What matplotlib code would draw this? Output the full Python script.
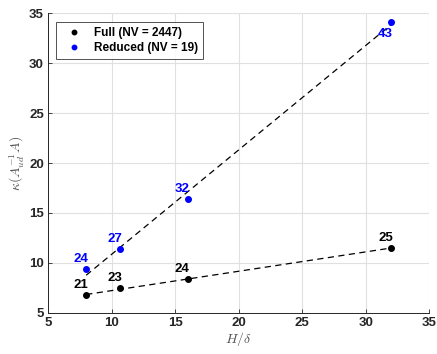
import numpy as np
import matplotlib
matplotlib.use("Agg")
from matplotlib import pyplot as plt

plt.rcParams['font.family'] = ['Liberation Sans', 'DejaVu Sans']
plt.rcParams['mathtext.fontset'] = 'cm'

h_delta = [8, 10.67, 16, 32]
kappa_full = [6.8, 7.45, 8.35, 11.5]
kappa_reduced = [9.4, 11.4, 16.4, 34.1]
iters_full = ['21', '23', '24', '25']
iters_reduced = ['24', '27', '32', '43']

fig = plt.figure(figsize=(4.37, 3.54), dpi=100)
ax = fig.add_axes([0.11, 0.116, 0.872, 0.847])

x = np.array(h_delta)
xf = np.linspace(x.min(), x.max(), 50)
for y in (kappa_full, kappa_reduced):
    p = np.polyfit(x, y, 1)
    ax.plot(xf, np.polyval(p, xf), 'k--', lw=0.9, dashes=(5, 3.5), zorder=2)

ax.plot(h_delta, kappa_full, 'o', color='k', ms=4, label='Full (NV = 2447)', zorder=3)
ax.plot(h_delta, kappa_reduced, 'o', color='#0000ff', ms=4, label='Reduced (NV = 19)', zorder=3)

for xi, yi, s in zip(h_delta, kappa_full, iters_full):
    ax.annotate(s, (xi, yi), xytext=(-4, 3), textcoords='offset points',
                ha='center', va='bottom', fontsize=9.5, fontweight='bold', color='k')
for i, (xi, yi, s) in enumerate(zip(h_delta, kappa_reduced, iters_reduced)):
    if i == len(h_delta) - 1:
        ax.annotate(s, (xi, yi), xytext=(-4.5, -4), textcoords='offset points',
                    ha='center', va='top', fontsize=9.5, fontweight='bold', color='#0000ff')
    else:
        ax.annotate(s, (xi, yi), xytext=(-4, 3), textcoords='offset points',
                    ha='center', va='bottom', fontsize=9.5, fontweight='bold', color='#0000ff')

ax.set_xlim(5, 35)
ax.set_ylim(5, 35)
ax.set_xticks(range(5, 40, 5))
ax.set_yticks(range(5, 40, 5))
ax.grid(True, color='#e0e0e0', lw=0.8)
ax.set_axisbelow(True)
for lab in ax.get_xticklabels() + ax.get_yticklabels():
    lab.set_fontweight('bold')
ax.tick_params(direction='in', labelsize=9.5, colors='#262626', length=3, width=0.6, pad=3)
for side in ['top', 'right']:
    ax.spines[side].set_visible(False)
for side in ['left', 'bottom']:
    ax.spines[side].set_color('#262626')
    ax.spines[side].set_linewidth(0.7)

ax.set_xlabel(r'$H/\delta$', fontsize=10, color='#555555', labelpad=1)
ax.set_ylabel(r'$\kappa(A_{ud}^{-1}A)$', fontsize=10, color='#555555', labelpad=2)

leg = ax.legend(loc='upper left', prop={'weight': 'bold', 'size': 8.5},
                frameon=True, fancybox=False, edgecolor='#262626', handletextpad=0.6,
                borderpad=0.4, labelspacing=0.3, bbox_to_anchor=(0.021, 0.97),
                borderaxespad=0, markerscale=0.8, handlelength=2.2)
leg.get_frame().set_linewidth(0.7)

fig.savefig('out.png', dpi=100)
